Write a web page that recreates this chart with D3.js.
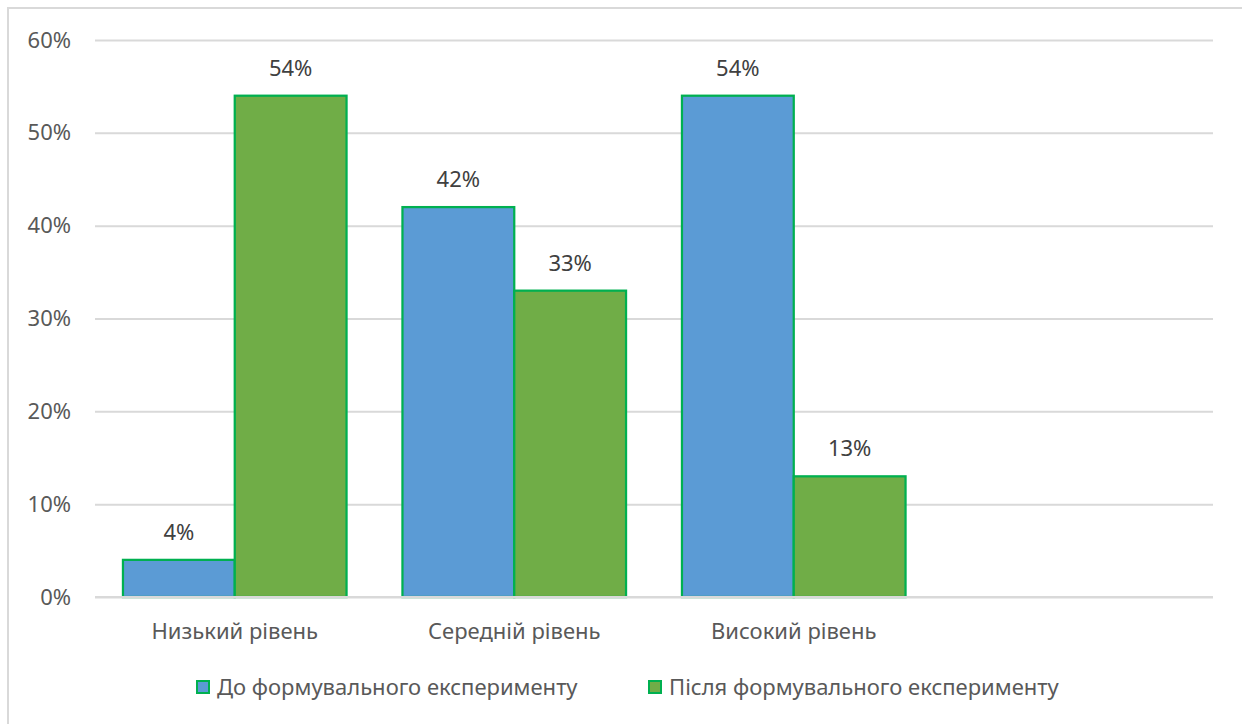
<!DOCTYPE html>
<html><head><meta charset="utf-8">
<script src="https://cdn.jsdelivr.net/npm/d3@7"></script>
<style>
html,body{margin:0;padding:0;background:#fff;}
svg{display:block;font-family:"Noto Sans","DejaVu Sans",sans-serif;}
</style></head>
<body>
<svg id="chart" width="1242" height="724"></svg>
<script>
const categories = ["Низький рівень", "Середній рівень", "Високий рівень", ""];
const seriesNames = ["До формувального експерименту", "Після формувального експерименту"];
const before = [4, 42, 54, null];
const after = [54, 33, 13, null];
const yTicks = [0, 10, 20, 30, 40, 50, 60];
const colors = ["#5b9bd5", "#70ad47"];
const strokeColor = "#00b050";
const textColor = "#595959";

(function(){
const FS = 22;
const svg = d3.select("#chart");
svg.append("rect").attr("x", 8).attr("y", 8).attr("width", 1250).attr("height", 730)
  .attr("fill", "#fff").attr("stroke", "#d9d9d9").attr("stroke-width", 2);

const pl = 95, pr = 1213, pt = 40, pb = 597;
const y = d3.scaleLinear().domain([0, 60]).range([pb, pt]);
const band = d3.scaleBand().domain(d3.range(categories.length)).range([pl, pr]);
const bw = band.bandwidth();
const barW = bw / 2.5;

const yAxis = d3.axisLeft(y).tickValues(yTicks).tickFormat(d => d + "%").tickSize(-(pr - pl)).tickPadding(24);
const gy = svg.append("g").attr("transform", `translate(${pl},0)`).call(yAxis);
gy.select(".domain").remove();
gy.selectAll(".tick line").attr("stroke", "#d9d9d9").attr("stroke-width", 2);
gy.selectAll(".tick text").attr("fill", textColor).attr("font-size", FS).attr("font-family", "Noto Sans");

const series = [before, after];
series.forEach((vals, s) => {
  const g = svg.append("g");
  vals.forEach((v, i) => {
    if (v == null) return;
    const x0 = band(i) + bw * 0.1 + s * barW;
    g.append("rect").attr("x", x0).attr("y", y(v)).attr("width", barW).attr("height", y(0) - y(v))
      .attr("fill", colors[s]).attr("stroke", strokeColor).attr("stroke-width", 2.25);
    g.append("text").attr("x", x0 + barW / 2).attr("y", y(v) - 20).attr("text-anchor", "middle")
      .attr("fill", "#404040").attr("font-size", FS).text(v + "%");
  });
});

svg.append("line").attr("x1", pl).attr("x2", pr).attr("y1", y(0)).attr("y2", y(0))
  .attr("stroke", "#d9d9d9").attr("stroke-width", 2);

const xAxis = d3.axisBottom(band).tickFormat(i => categories[i]).tickSize(0).tickPadding(26);
const gx = svg.append("g").attr("transform", `translate(0,${pb})`).call(xAxis);
gx.select(".domain").remove();
gx.selectAll(".tick text").attr("fill", textColor).attr("font-size", FS).attr("font-family", "Noto Sans");

const legendX = [196, 648];
seriesNames.forEach((n, s) => {
  const g = svg.append("g").attr("transform", `translate(${legendX[s]},680)`);
  g.append("rect").attr("x", 1).attr("y", 1).attr("width", 12).attr("height", 12)
    .attr("fill", colors[s]).attr("stroke", strokeColor).attr("stroke-width", 2);
  g.append("text").attr("x", 21).attr("y", 7).attr("dy", "0.35em").attr("fill", textColor)
    .attr("font-size", FS).text(n);
});
})();
</script>
</body></html>
